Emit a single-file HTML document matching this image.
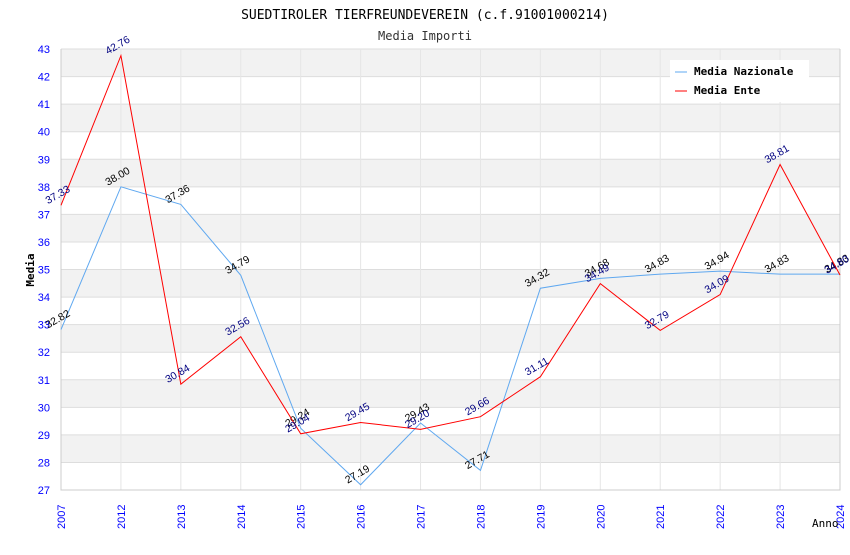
<!DOCTYPE html>
<html><head><meta charset="utf-8"><style>
body{margin:0;background:#fff;}
svg text{font-family:"Liberation Sans",sans-serif;}
svg text.mono{font-family:"DejaVu Sans Mono","Liberation Mono",monospace;}
</style></head><body>
<svg id="chart" width="850" height="550" xmlns="http://www.w3.org/2000/svg">
<text class="mono" x="425" y="19" text-anchor="middle" font-size="13" fill="#000">SUEDTIROLER TIERFREUNDEVEREIN (c.f.91001000214)</text>
<text class="mono" x="425" y="40" text-anchor="middle" font-size="12" fill="#333">Media Importi</text>
<g id="grid"></g><g id="axes"></g><g id="series"></g>
<text class="mono" transform="translate(34,270) rotate(-90)" text-anchor="middle" font-size="11" font-weight="bold" fill="#000">Media</text>
<text class="mono" x="812" y="527" font-size="11" fill="#000">Anno</text>
<g>
<rect x="670" y="60" width="139" height="42" fill="#fff"/>
<line x1="675" y1="72" x2="687" y2="72" stroke="#5fa8f0"/>
<text class="mono" x="694" y="75" font-size="11" font-weight="bold">Media Nazionale</text>
<line x1="675" y1="91" x2="687" y2="91" stroke="#f00"/>
<text class="mono" x="694" y="94" font-size="11" font-weight="bold">Media Ente</text>
</g>
</svg>
<script>
const categories=["2007","2012","2013","2014","2015","2016","2017","2018","2019","2020","2021","2022","2023","2024"];
const nazionale=[32.82,38.00,37.36,34.79,29.24,27.19,29.43,27.71,34.32,34.68,34.83,34.94,34.83,34.83];
const ente=[37.33,42.76,30.84,32.56,29.04,29.45,29.20,29.66,31.11,34.49,32.79,34.09,38.81,34.80];
const yTicks=[27,28,29,30,31,32,33,34,35,36,37,38,39,40,41,42,43];
const NS="http://www.w3.org/2000/svg";
const L=61,R=840,T=49,B=490,yMin=27,yMax=43;
const x=i=>L+i*(R-L)/(categories.length-1);
const y=v=>B-(v-yMin)/(yMax-yMin)*(B-T);
function mk(tag,at,parent){const e=document.createElementNS(NS,tag);for(const k in at)e.setAttribute(k,at[k]);document.getElementById(parent).appendChild(e);return e;}
for(let i=0;i<yTicks.length-1;i++){
 const r=mk('rect',{x:L,y:y(yTicks[i+1]),width:R-L,height:y(yTicks[i])-y(yTicks[i+1]),fill:(i%2===1)?'#f2f2f2':'#fff'},'grid');
 
 
}
yTicks.forEach(t=>{
 const l=mk('line',{x1:L,x2:R,y1:y(t),y2:y(t),stroke:'#ddd'},'grid');
 
 
 const tx=mk('text',{x:50,y:y(t)+4,'text-anchor':'end','font-size':'11',fill:'#00f'},'axes');
 tx.textContent=t;
 
 
});
categories.forEach((c,i)=>{
 const l=mk('line',{x1:x(i),x2:x(i),y1:T,y2:B,stroke:'#e6e6e6'},'grid');
 
 
 const tx=mk('text',{transform:`translate(${x(i)+4},${B+39}) rotate(-90)`,'font-size':'11',fill:'#00f'},'axes');
 tx.textContent=c;
 
 
});
const ax=mk('path',{d:`M${L},${T}V${B}H${R}V${T}`,stroke:'#ccc',fill:'none'},'axes');


function series(vals,color,labColor,name){
 const p=mk('polyline',{points:vals.map((v,i)=>x(i)+','+y(v)).join(' '),fill:'none',stroke:color,'stroke-width':'1'},'series');
 
 
 vals.forEach((v,i)=>{
  const t=mk('text',{transform:`translate(${x(i)-13},${y(v)-1}) rotate(-30)`,'font-size':'10.5',fill:labColor},'series');
  t.textContent=v.toFixed(2);
  
  
 });
}
series(nazionale,'#5fa8f0','#000','nazionale');
series(ente,'#f00','#000080','ente');
</script>
</body></html>
